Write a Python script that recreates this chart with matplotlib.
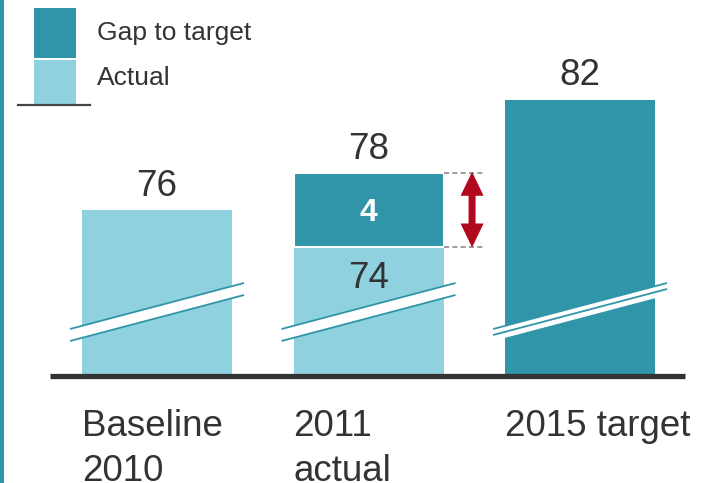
import matplotlib
matplotlib.use("Agg")
import matplotlib.pyplot as plt
import numpy as np
from matplotlib.patches import Polygon, Rectangle
from matplotlib.lines import Line2D

# ---- data ----
categories = ["Baseline\n2010", "2011\nactual", "2015 target"]
actual = [76, 74, np.nan]
gap = [np.nan, 4, np.nan]
target = [np.nan, np.nan, 82]
totals = [76, 78, 82]
axis_floor = 67
axis_top = 85
legend_labels = ["Gap to target", "Actual"]

DARK = "#3195a9"
LIGHT = "#8fd1df"
TEXT = "#333333"
RED = "#b0081c"
FONT = "Liberation Sans"
plt.rcParams["font.family"] = [FONT, "DejaVu Sans"]

W, H = 711, 483
fig = plt.figure(figsize=(W / 100, H / 100), dpi=100)


def fx(px):
    return px / W


def fy(py):
    return 1 - py / H


ax = fig.add_axes([fx(50), fy(376), fx(685) - fx(50), fy(44.3) - fy(376)])
ax.set_xlim(-0.506, 2.496)
ax.set_ylim(axis_floor, axis_top)
ax.axis("off")

x = np.arange(len(categories))
bw = 0.709
kx = 211.5   # px per x unit
ky = 18.43   # px per y unit
FS = 26.5

act = np.array(actual, dtype=float)
gp = np.array(gap, dtype=float)
tg = np.array(target, dtype=float)

m = ~np.isnan(act)
ax.bar(x[m], act[m] - axis_floor, bottom=axis_floor, width=bw, color=LIGHT, zorder=2)
m = ~np.isnan(gp)
ax.bar(x[m], gp[m], bottom=act[m], width=bw, color=DARK, edgecolor="white",
       linewidth=1.5, zorder=2)
m = ~np.isnan(tg)
ax.bar(x[m], tg[m] - axis_floor, bottom=axis_floor, width=bw, color=DARK, zorder=2)

# baseline
ax.plot([-0.506, 2.496], [axis_floor, axis_floor], color=TEXT, lw=3.8,
        solid_capstyle="butt", clip_on=False, zorder=5)

# break marks
ext = 87 / kx
yl = axis_floor + (376 - 329) / ky
yr = axis_floor + (376 - 283) / ky
band = 12 / ky
for i in x:
    x0, x1 = i - ext, i + ext
    poly = Polygon([[x0, yl], [x1, yr], [x1, yr - band], [x0, yl - band]],
                   closed=True, facecolor="white", edgecolor="none", zorder=3)
    ax.add_patch(poly)
    if np.isnan(tg[i]):
        offs = [0, band]
    else:
        offs = [0, band / 2]
    for o in offs:
        ax.plot([x0, x1], [yl - o, yr - o], color=DARK, lw=1.3, zorder=4,
                solid_capstyle="butt")

# value labels
for i, t in enumerate(totals):
    ax.annotate(str(t), (x[i], t), xytext=(0, 14.5 * 0.72), textcoords="offset points",
                ha="center", va="baseline", fontsize=FS, color=TEXT, zorder=6)
# inner actual label for bar with gap
for i in x:
    if not np.isnan(gp[i]):
        ax.annotate(f"{int(act[i])}", (x[i], act[i]), xytext=(0, -41 * 0.72),
                    textcoords="offset points", ha="center", va="baseline",
                    fontsize=FS, color=TEXT, zorder=6)
        ax.annotate(f"{int(gp[i])}", (x[i], act[i] + gp[i] / 2), xytext=(0, -11 * 0.72),
                    textcoords="offset points", ha="center", va="baseline",
                    fontsize=23, fontweight="bold", color="white", zorder=6)
        # dashed guides
        xr0 = x[i] + bw / 2
        xr1 = x[i] + (484 - 368.5) / kx
        for yv in (act[i], act[i] + gp[i]):
            ax.plot([xr0, xr1], [yv, yv], color="#8c8c8c", lw=1.2,
                    ls=(0, (3, 2)), zorder=4, clip_on=False)
        # double arrow
        c = x[i] + (472 - 368.5) / kx
        yt = act[i] + gp[i] + 1.5 / ky
        yb = act[i] - 0.5 / ky
        hl = 24 / ky
        hw = 11.5 / kx
        sw = 3.5 / kx
        pts = [[c, yt], [c + hw, yt - hl], [c + sw, yt - hl], [c + sw, yb + hl],
               [c + hw, yb + hl], [c, yb], [c - hw, yb + hl], [c - sw, yb + hl],
               [c - sw, yt - hl], [c - hw, yt - hl]]
        ax.add_patch(Polygon(pts, closed=True, facecolor=RED, edgecolor="none", zorder=6))

# category labels (one line per text)
for i, c in enumerate(categories):
    for j, line in enumerate(c.split("\n")):
        ylab = axis_floor - (436 + 45 * j - 376) / ky
        ax.text(x[i] - bw / 2, ylab, line, ha="left", va="baseline", fontsize=FS,
                color=TEXT, clip_on=False)

# legend (figure pixel coordinates)
fig.patches.append(Rectangle((fx(34), fy(58)), fx(76) - fx(34), fy(8) - fy(58),
                             transform=fig.transFigure, facecolor=DARK, edgecolor="none"))
fig.patches.append(Rectangle((fx(34), fy(104)), fx(76) - fx(34), fy(60) - fy(104),
                             transform=fig.transFigure, facecolor=LIGHT, edgecolor="none"))
fig.lines.append(Line2D([fx(18), fx(90)], [fy(105), fy(105)], transform=fig.transFigure,
                        color="#444444", lw=1.6))
fig.text(fx(97), fy(33), legend_labels[0], ha="left", va="center", fontsize=19, color=TEXT)
fig.text(fx(97), fy(78), legend_labels[1], ha="left", va="center", fontsize=19, color=TEXT)

# left border
fig.patches.append(Rectangle((0, 0), fx(3.5), 1, transform=fig.transFigure,
                             facecolor=DARK, edgecolor="none"))

fig.savefig("out.png", dpi=100)
